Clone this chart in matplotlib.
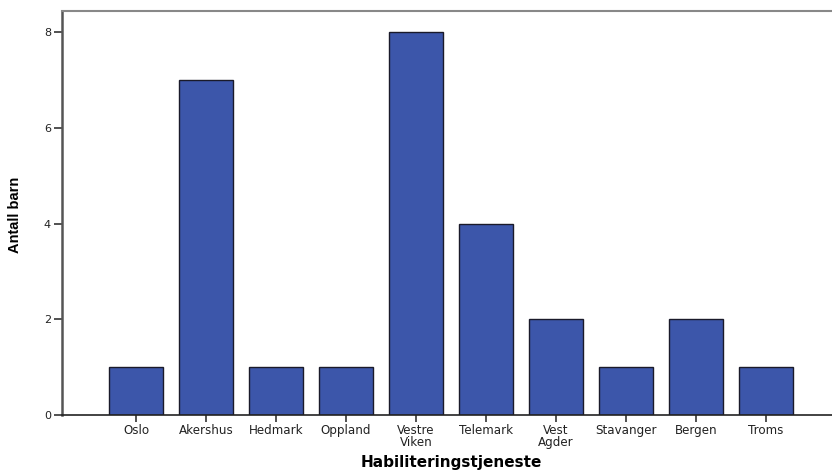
import matplotlib
matplotlib.use("Agg")
import matplotlib.pyplot as plt
import numpy as np

categories = ["Oslo", "Akershus", "Hedmark", "Oppland", "Vestre\nViken",
              "Telemark", "Vest\nAgder", "Stavanger", "Bergen", "Troms"]
counts = [1, 7, 1, 1, 8, 4, 2, 1, 2, 1]
yticks = [0, 2, 4, 6, 8]

fig = plt.figure(figsize=(8.32, 4.71), dpi=100)
ax = fig.add_axes([62 / 832, 1 - 415 / 471, 770 / 832, 404 / 471])

x = np.arange(len(categories))
ax.bar(x, counts, width=0.76, color="#3c56aa", edgecolor="#1a1a2a", linewidth=1.0, zorder=2)

ax.set_xlim(-1.057, 9.943)
ax.set_ylim(0, 8.44)

ax.set_xticks(x)
ax.set_xticklabels(categories, fontsize=8.6, family="DejaVu Sans", linespacing=0.88,
                   color="#222222")
ax.set_yticks(yticks)
ax.set_yticklabels([str(v) for v in yticks], fontsize=8, family="DejaVu Sans",
                   color="#222222")

ax.tick_params(axis="x", direction="out", length=5, width=1.2, color="#333333", pad=1.5)
ax.tick_params(axis="y", direction="out", length=6, width=1.2, color="#333333", pad=2)

ax.spines["right"].set_visible(False)
ax.spines["top"].set_color("#888888")
ax.spines["top"].set_linewidth(1.5)
ax.spines["left"].set_color("#555555")
ax.spines["left"].set_linewidth(1.8)
ax.spines["bottom"].set_color("#222222")
ax.spines["bottom"].set_linewidth(1.2)

fig.text(451 / 832, 1 - 463 / 471, "Habiliteringstjeneste", ha="center", va="center",
         fontsize=11, fontweight="bold", family="DejaVu Sans")
fig.text(15 / 832, 1 - 215 / 471, "Antall barn", ha="center", va="center", rotation=90,
         fontsize=10.5, fontweight="bold", family="Liberation Sans")

fig.savefig("out.png", dpi=100)
